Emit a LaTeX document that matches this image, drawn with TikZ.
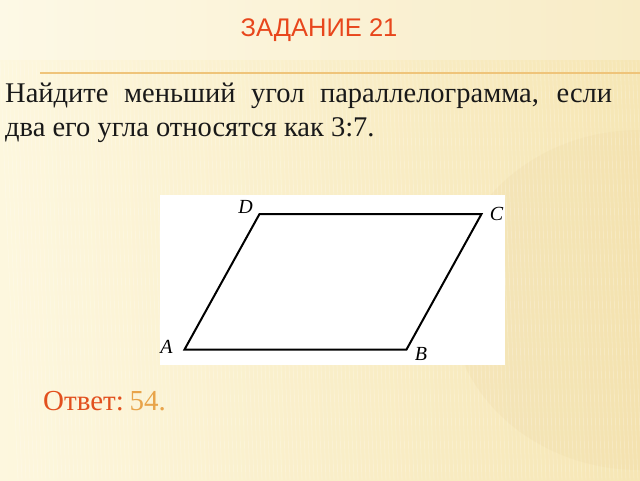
\documentclass[tikz,border=0pt]{standalone}
\usepackage{fontspec}
\setmainfont{Liberation Serif}
\newfontfamily\titlefont{Liberation Sans}
\definecolor{bgA}{HTML}{FDF7DE}
\definecolor{bgB}{HTML}{F6E6B4}
\definecolor{titlered}{HTML}{E8461C}
\definecolor{ansred}{HTML}{E2501E}
\definecolor{ansnum}{HTML}{E8A44A}
\definecolor{rulecol}{HTML}{EFC47A}
\tikzset{
  txt/.style={inner sep=0pt, text=black!90, font=\fontsize{28.5}{32}\selectfont},
  lbl/.style={inner sep=0pt, font=\fontsize{20}{22}\selectfont\itshape},
  edge/.style={line width=2pt, line join=miter, black},
}
\begin{document}
\begin{tikzpicture}[x=1pt,y=-1pt]
\useasboundingbox (0,0) rectangle (640,480);
% background
\shade[left color=bgA, right color=bgB] (0,0) rectangle (640,480);
\fill[white, opacity=0.25] (0,0) rectangle (640,60);
\fill[bgB!80!brown, opacity=0.18] (640,300) ellipse (190 and 170);
\foreach \i in {0,4,...,640} {
  \draw[white, opacity=0.22, line width=0.8pt] (\i,60) -- (\i+18,480);
}
% title
\node[inner sep=0pt, anchor=base, text=titlered, font=\titlefont\fontsize{25.5}{28}\selectfont] (title) at (319,36) {ЗАДАНИЕ 21};
% rule
\coordinate (rl) at (40,73);
\coordinate (rr) at (640,73);
\draw[rulecol, line width=1.2pt] (rl) -- (rr);
% problem text
\node[txt, anchor=base west] (l1) at (5,102) {\makebox[607pt][s]{Найдите меньший угол параллелограмма, если}};
\node[txt, anchor=base west] (l2) at (5,136) {два его угла относятся как 3:7.};
% figure
\fill[white] (160,194.5) rectangle (505,365);
\coordinate (A) at (184.5,349.5);
\coordinate (B) at (406.5,349.5);
\coordinate (C) at (481.5,214);
\coordinate (D) at (259.5,214);
\draw[edge] (A) -- (B) -- (C) -- (D) -- cycle;
\node[lbl] (lA) at (166.5,347) {A};
\node[lbl] (lB) at (421,354) {B};
\node[lbl] (lC) at (496.5,214) {C};
\node[lbl] (lD) at (245.5,207) {D};
% answer
\node[inner sep=0pt, anchor=base west, font=\fontsize{29}{30}\selectfont] (ans) at (43,410) {\textcolor{ansred}{Ответ:}\hspace{0.2em}\textcolor{ansnum}{54.}};
\end{tikzpicture}
\end{document}
